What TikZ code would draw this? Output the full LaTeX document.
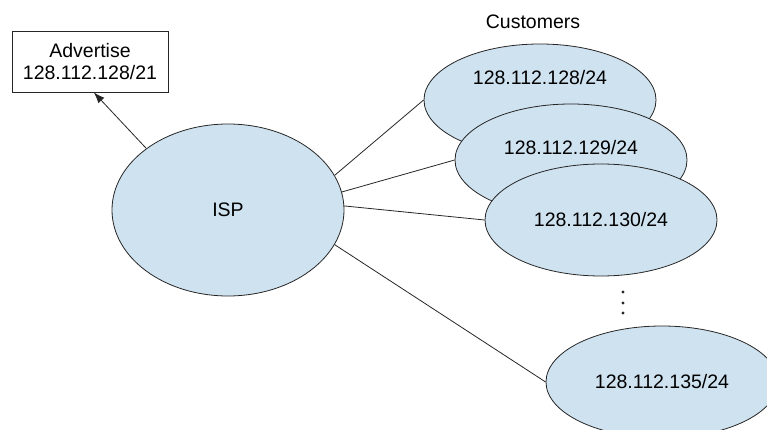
\documentclass[tikz,border=0pt]{standalone}
\usepackage{fontspec}
\setmainfont{Liberation Sans}
\usetikzlibrary{shapes.geometric,arrows.meta}
\definecolor{netblue}{HTML}{CFE2F0}
\begin{document}
\begin{tikzpicture}[x=1pt,y=-1pt,line width=0.8pt,
		font=\fontsize{19.5}{23}\selectfont,
		net/.style={ellipse,draw=black!85,fill=netblue,inner sep=0pt,
			minimum width=232pt,minimum height=112pt},
		link/.style={draw=black!85}]
		\useasboundingbox (0,0) rectangle (767,430);
		% advertised block
		\node[draw=black!85,minimum width=156pt,minimum height=61pt,align=center,
			inner sep=0pt] (adv) at (90,61.5) {Advertise\\[-1pt]128.112.128/21};
		\node[net,minimum height=172pt] (isp) at (228,210) {ISP};
		\node (cust) at (533,22) {Customers};
		% customer nets, later ones on top
		\node[net] (c1) at (540,100) {};
		\node (t1) at (540,78) {128.112.128/24};
		\node[net] (c2) at (571,160) {};
		\node (t2) at (571,148) {128.112.129/24};
		\node[net] (c3) at (601,220) {128.112.130/24};
		\node[net] (c4) at (662,382) {128.112.135/24};
		\foreach \y in {292,303,313}
			\fill[black!85] (623,\y) circle (1.6);
		% links
		\draw[link,-{Latex[length=11pt,width=8pt]}] (isp.143) -- (adv.-83);
		\draw[link] (isp.18) -- (c1.west);
		\draw[link] (isp.9) -- (c2.west);
		\draw[link] (isp.2) -- (c3.west);
		\draw[link] (isp.-18) -- (c4.west);
	\end{tikzpicture}
\end{document}
